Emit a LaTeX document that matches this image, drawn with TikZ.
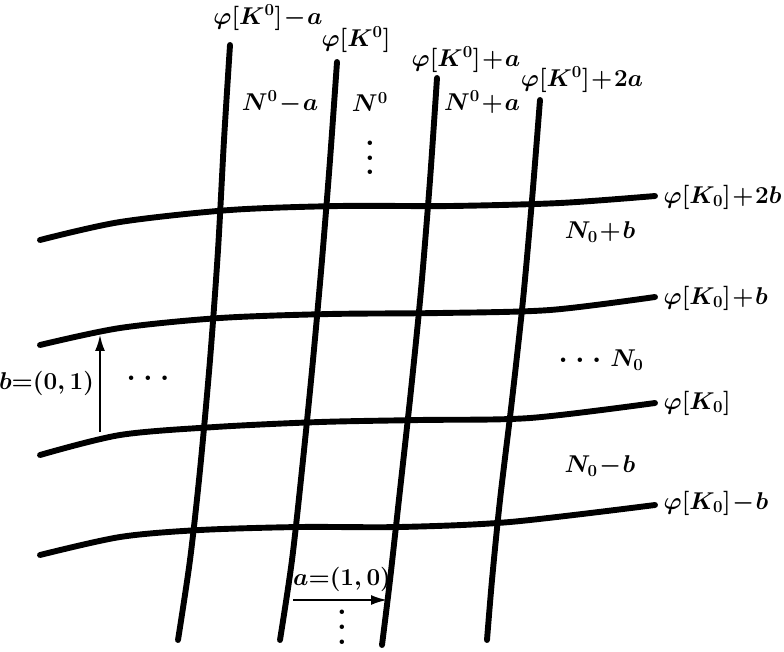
\documentclass[tikz,border=0pt]{standalone}
\usetikzlibrary{arrows.meta}
\newcommand\tightmath{\medmuskip=1mu\relax\thickmuskip=1mu\relax}
\newcommand\tightermath{\medmuskip=1mu\relax\thickmuskip=0mu\relax}
\newcommand\bigvdots{\vbox{\baselineskip=10.5pt\hbox{.}\hbox{.}\hbox{.}}}
\newcommand\bigcdots{\hbox{.\hskip5pt.\hskip5pt.}}
\tikzset{
  grid line/.style={line width=4.2pt, line cap=round},
  shift vec/.style={line width=2pt, -{Latex[length=12pt,width=7pt]}},
  lbl/.style={font=\fontsize{16.5}{19}\selectfont\boldmath\tightmath, inner sep=1pt},
  vec lbl/.style={font=\fontsize{16.5}{19}\selectfont\boldmath\tightermath, inner sep=0.5pt},
  dots/.style={font=\fontsize{22}{22}\selectfont\bfseries, inner sep=0pt},
}
\begin{document}
\begin{tikzpicture}[x=0.025cm, y=-0.025cm]
  \useasboundingbox (0,0) rectangle (784,652);

  % the level curves phi[K^0] + k a
  \draw[grid line] plot[smooth] coordinates {(230,45) (224,140) (218,250) (210,360) (200,470) (190,560) (178,640)};
  \draw[grid line] plot[smooth] coordinates {(337,62) (330,160) (322,260) (313,360) (303,460) (292,560) (280,640)};
  \draw[grid line] plot[smooth] coordinates {(437,78) (430,180) (421,290) (411,390) (400,490) (390,580) (382,645)};
  \draw[grid line] plot[smooth] coordinates {(540,100) (532,200) (523,300) (512,400) (500,500) (492,580) (487,640)};

  % the level curves phi[K_0] + l b
  \draw[grid line] plot[smooth] coordinates {(40,240) (120,222) (230,210) (340,206) (450,206) (560,203) (655,196)};
  \draw[grid line] plot[smooth] coordinates {(40,345) (120,328) (220,318) (330,314) (440,313) (550,310) (655,297)};
  \draw[grid line] plot[smooth] coordinates {(40,455) (120,435) (215,427) (320,422) (420,420) (530,418) (655,403)};
  \draw[grid line] plot[smooth] coordinates {(40,555) (120,537) (200,530) (300,527) (400,527) (510,522) (655,505)};

  % labels on top
  \node[lbl] (ka)  at (268,18) {$\varphi[K^0]-a$};
  \node[lbl] (k)   at (356,40) {$\varphi[K^0]$};
  \node[lbl] (kpa) at (466,60) {$\varphi[K^0]+a$};
  \node[lbl] (k2a) at (582,80) {$\varphi[K^0]+2a$};

  \node[lbl] (nma) at (280,102) {$N^0-a$};
  \node[lbl] (n)   at (370,102) {$N^0$};
  \node[lbl] (npa) at (482,102) {$N^0+a$};
  \node[dots] (vdtop) at (370,158) {\bigvdots};

  % labels on the right
  \node[lbl, anchor=west] (l2b) at (662,197) {$\varphi[K_0]+2b$};
  \node[lbl] (npb) at (600,232) {$N_0+b$};
  \node[lbl, anchor=west] (lb)  at (662,298) {$\varphi[K_0]+b$};
  \node[dots] (hdr) at (580,360) {\bigcdots};
  \node[lbl] (nz)  at (627,360) {$N_0$};
  \node[lbl, anchor=west] (l0)  at (662,403) {$\varphi[K_0]$};
  \node[lbl] (nmb) at (600,466) {$N_0-b$};
  \node[lbl, anchor=west] (lmb) at (662,503) {$\varphi[K_0]-b$};

  % the shift b
  \coordinate (bfoot) at (100,432);
  \coordinate (bhead) at (100,334);
  \draw[shift vec] (bfoot) -- (bhead);
  \node[vec lbl, anchor=east] (bl) at (95,383) {$b=(0,1)$};
  \node[dots] (hdots) at (148,378) {\bigcdots};

  % the shift a
  \coordinate (afoot) at (293,600);
  \coordinate (ahead) at (388,600);
  \draw[shift vec] (afoot) -- (ahead);
  \node[vec lbl] (al) at (342,579) {$a=(1,0)$};
  \node[dots] (vdbot) at (342,627) {\bigvdots};
\end{tikzpicture}
\end{document}
